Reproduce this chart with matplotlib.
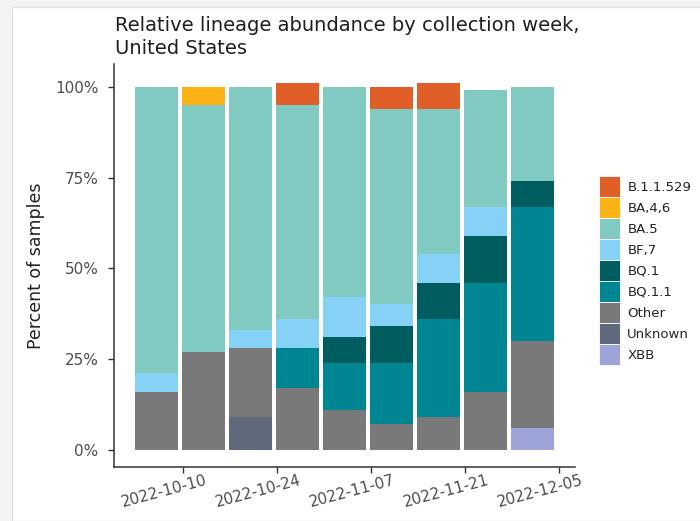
import matplotlib
matplotlib.use("Agg")
import matplotlib.pyplot as plt
import matplotlib.dates as mdates
from matplotlib.patches import Patch, Rectangle
from matplotlib.transforms import ScaledTranslation
from datetime import datetime
import numpy as np

# Collection weeks (bar centres)
weeks = ["2022-10-06", "2022-10-13", "2022-10-20", "2022-10-27", "2022-11-03",
         "2022-11-10", "2022-11-17", "2022-11-24", "2022-12-01"]

# Percent of samples per lineage and week
xbb       = [0, 0, 0, 0, 0, 0, 0, 0, 6]
unknown   = [0, 0, 9, 0, 0, 0, 0, 0, 0]
other     = [16, 27, 19, 17, 11, 7, 9, 16, 24]
bq_1_1    = [0, 0, 0, 11, 13, 17, 27, 30, 37]
bq_1      = [0, 0, 0, 0, 7, 10, 10, 13, 7]
bf_7      = [5, 0, 5, 8, 11, 6, 8, 8, 0]
ba_5      = [79, 68, 67, 59, 58, 54, 40, 32, 26]
ba_4_6    = [0, 5, 0, 0, 0, 0, 0, 0, 0]
b_1_1_529 = [0, 0, 0, 6, 0, 6, 7, 0, 0]

lineages = ["B.1.1.529", "BA,4,6", "BA.5", "BF,7", "BQ.1", "BQ.1.1",
            "Other", "Unknown", "XBB"]
series = {
    "B.1.1.529": b_1_1_529, "BA,4,6": ba_4_6, "BA.5": ba_5, "BF,7": bf_7,
    "BQ.1": bq_1, "BQ.1.1": bq_1_1, "Other": other, "Unknown": unknown,
    "XBB": xbb,
}
colors = {
    "B.1.1.529": "#E05E28", "BA,4,6": "#FCB316", "BA.5": "#80CAC2",
    "BF,7": "#86D1F6", "BQ.1": "#005D5F", "BQ.1.1": "#008692",
    "Other": "#797979", "Unknown": "#5E6A7C", "XBB": "#9CA4D8",
}

tick_dates = ["2022-10-10", "2022-10-24", "2022-11-07", "2022-11-21", "2022-12-05"]
y_ticks = [0, 25, 50, 75, 100]
y_tick_labels = ["0%", "25%", "50%", "75%", "100%"]

W, H = 700, 521
fig = plt.figure(figsize=(W / 100, H / 100), dpi=100)
fig.patch.set_facecolor("#f3f3f3")
fig.patches.append(Rectangle((12 / W, 0), 1, 1 - 7 / H, transform=fig.transFigure,
                             facecolor="white", edgecolor="#e2e2e2", lw=1.0, zorder=-1))

ax = fig.add_axes([114 / W, 1 - 467 / H, (575 - 114) / W, (467 - 64) / H])
ax.set_facecolor("white")

to_num = lambda s: mdates.date2num(datetime.strptime(s, "%Y-%m-%d"))
x = np.array([to_num(w) for w in weeks])

bottom = np.zeros(len(weeks))
for name in reversed(lineages):
    vals = np.array(series[name], dtype=float)
    ax.bar(x, vals, width=6.45, bottom=bottom, color=colors[name],
           linewidth=0, label=name)
    bottom += vals

ax.set_xlim(to_num("2022-10-10") - 10.32, to_num("2022-10-10") + 58.34)
ax.set_ylim(-4.8, 106.3)

ax.set_xticks([to_num(d) for d in tick_dates])
ax.set_xticklabels(tick_dates, rotation=15, ha="center")
ax.set_yticks(y_ticks)
ax.set_yticklabels(y_tick_labels)

for side in ("top", "right"):
    ax.spines[side].set_visible(False)
for side in ("left", "bottom"):
    ax.spines[side].set_color("#333333")
    ax.spines[side].set_linewidth(1.1)

ax.tick_params(axis="both", colors="#333333", labelcolor="#4d4d4d",
               labelsize=11, length=4, width=1)
ax.tick_params(axis="x", pad=0)
ax.tick_params(axis="y", pad=7)

shift = ScaledTranslation(-19 / 100, 0, fig.dpi_scale_trans)
for lbl in ax.get_xticklabels():
    lbl.set_transform(lbl.get_transform() + shift)

ax.set_ylabel("Percent of samples", fontsize=12.5, color="#222222")
ax.yaxis.set_label_coords((45 - 114) / (575 - 114), 0.5)

fig.text(115 / W, 1 - 16 / H,
         "Relative lineage abundance by collection week,\nUnited States",
         fontsize=14, color="#1e1e1e", ha="left", va="top", linespacing=1.25)

handles = [Patch(facecolor=colors[n], edgecolor="white", linewidth=0.6, label=n)
           for n in lineages]
leg = fig.legend(handles=handles, loc="upper left",
                 bbox_to_anchor=(599 / W, 1 - 176 / H), frameon=False,
                 fontsize=9.5, handlelength=1.6, handleheight=2.07,
                 labelspacing=0.0, handletextpad=0.55, borderpad=0,
                 borderaxespad=0)
for t in leg.get_texts():
    t.set_color("#222222")

fig.savefig("out.png", dpi=100, facecolor=fig.get_facecolor())
